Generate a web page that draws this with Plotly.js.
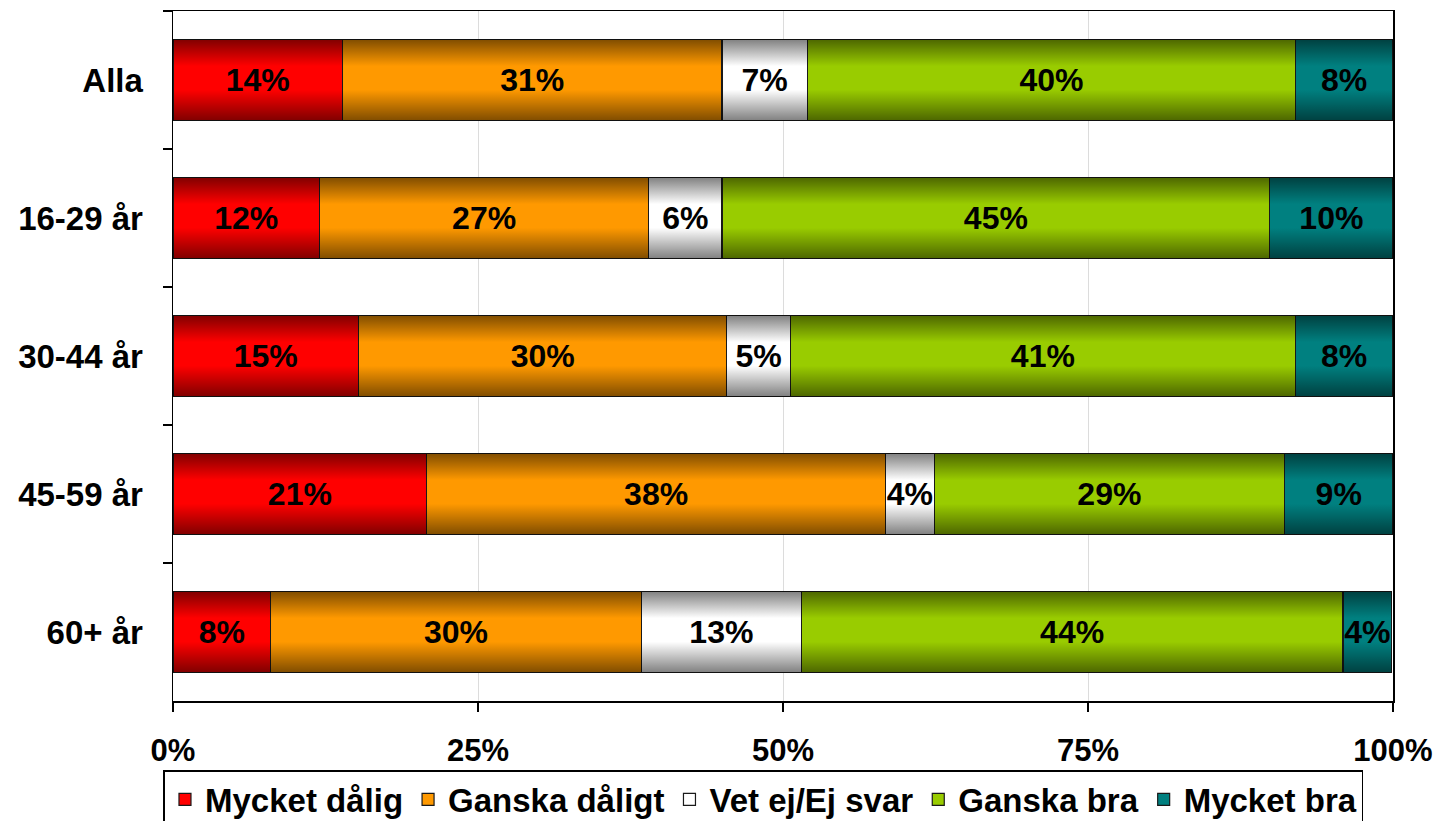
<!DOCTYPE html>
<html>
<head>
<meta charset="utf-8">
<script src="https://cdn.plot.ly/plotly-3.0.1.min.js"></script>
<style>html,body{margin:0;padding:0;background:#fff;overflow:hidden;}#chart{width:1435px;height:900px;}</style>
</head>
<body>
<div id="chart"></div>
<script>
const categories = ["Alla", "16-29 år", "30-44 år", "45-59 år", "60+ år"];
const seriesNames = ["Mycket dålig", "Ganska dåligt", "Vet ej/Ej svar", "Ganska bra", "Mycket bra"];
const mycketDalig  = [13.9, 12.0, 15.2, 20.8, 8.0];
const ganskaDaligt = [31.1, 27.0, 30.2, 37.6, 30.4];
const vetEj        = [7.0, 6.0, 5.2, 4.0, 13.1];
const ganskaBra    = [40.0, 44.9, 41.4, 28.7, 44.4];
const mycketBra    = [8.0, 10.1, 8.0, 8.9, 4.0];
const colors = ["#FF0000", "#FF9900", "#FFFFFF", "#99CC00", "#008080"];
const xTickVals = [0, 25, 50, 75, 100];
const xTickText = ["0%", "25%", "50%", "75%", "100%"];

const seriesValues = [mycketDalig, ganskaDaligt, vetEj, ganskaBra, mycketBra];
const FONT = "Liberation Sans, Arial, sans-serif";
const BARGAP = 0.41;
const HALF = (1 - BARGAP) / 2;

const traces = seriesValues.map((vals, i) => ({
  type: "bar",
  orientation: "h",
  name: seriesNames[i],
  x: vals,
  y: categories,
  marker: {color: colors[i], line: {color: "#1a1a1a", width: 1.2}},
  text: vals.map(v => Math.round(v) + "%"),
  textposition: "inside",
  insidetextanchor: "middle",
  textangle: 0,
  textfont: {family: FONT, size: 32, color: "#000", weight: "bold"},
  hoverinfo: "skip"
}));

// shading overlay (Excel-style top/bottom gradient) spanning each stacked row
categories.forEach((c, idx) => {
  const total = seriesValues.reduce((s, arr) => s + arr[idx], 0);
  traces.push({
    type: "scatter",
    mode: "lines",
    x: [0, total, total, 0, 0],
    y: [idx - HALF, idx - HALF, idx + HALF, idx + HALF, idx - HALF],
    yaxis: "y2",
    fill: "toself",
    line: {width: 0, color: "rgba(0,0,0,0)"},
    fillgradient: {
      type: "vertical",
      start: idx - HALF,
      stop: idx + HALF,
      colorscale: [[0, "rgba(0,0,0,0.5)"], [0.33, "rgba(0,0,0,0)"], [0.62, "rgba(0,0,0,0)"], [1, "rgba(0,0,0,0.5)"]]
    },
    showlegend: false,
    hoverinfo: "skip"
  });
});

const layout = {
  barmode: "stack",
  bargap: BARGAP,
  width: 1435,
  height: 900,
  margin: {l: 173, r: 42, t: 11, b: 199},
  paper_bgcolor: "#fff",
  plot_bgcolor: "#fff",
  font: {family: FONT, color: "#000"},
  uniformtext: {minsize: 32, mode: "show"},
  xaxis: {
    range: [0, 100],
    tickvals: xTickVals,
    ticktext: xTickText,
    tickfont: {family: FONT, size: 31, weight: "bold"},
    ticks: "outside", ticklen: 9, tickcolor: "#000", tickwidth: 1.5,
    ticklabelstandoff: 12,
    showgrid: true, gridcolor: "#dcdcdc", gridwidth: 1,
    showline: true, linecolor: "#000", linewidth: 1.5,
    mirror: true, zeroline: false, fixedrange: true
  },
  yaxis: {
    autorange: "reversed",
    type: "category",
    tickfont: {family: FONT, size: 33, weight: "bold"},
    ticks: "outside", ticklen: 9, tickcolor: "#000", tickwidth: 1.5,
    tickson: "boundaries",
    ticklabelstandoff: 22,
    showline: true, linecolor: "#000", linewidth: 1.5,
    mirror: true,
    showgrid: false, zeroline: false, fixedrange: true
  },
  yaxis2: {
    overlaying: "y",
    range: [categories.length - 0.5, -0.5],
    visible: false,
    fixedrange: true
  },
  showlegend: true,
  legend: {
    orientation: "h",
    x: 0.484, xanchor: "center",
    y: -0.1, yanchor: "top",
    bordercolor: "#000", borderwidth: 1.5,
    font: {family: FONT, size: 33, weight: "bold"},
    itemwidth: 30,
    traceorder: "normal",
    tracegroupgap: 0
  }
};

Plotly.newPlot("chart", traces, layout, {displayModeBar: false, staticPlot: true});
</script>
</body>
</html>
